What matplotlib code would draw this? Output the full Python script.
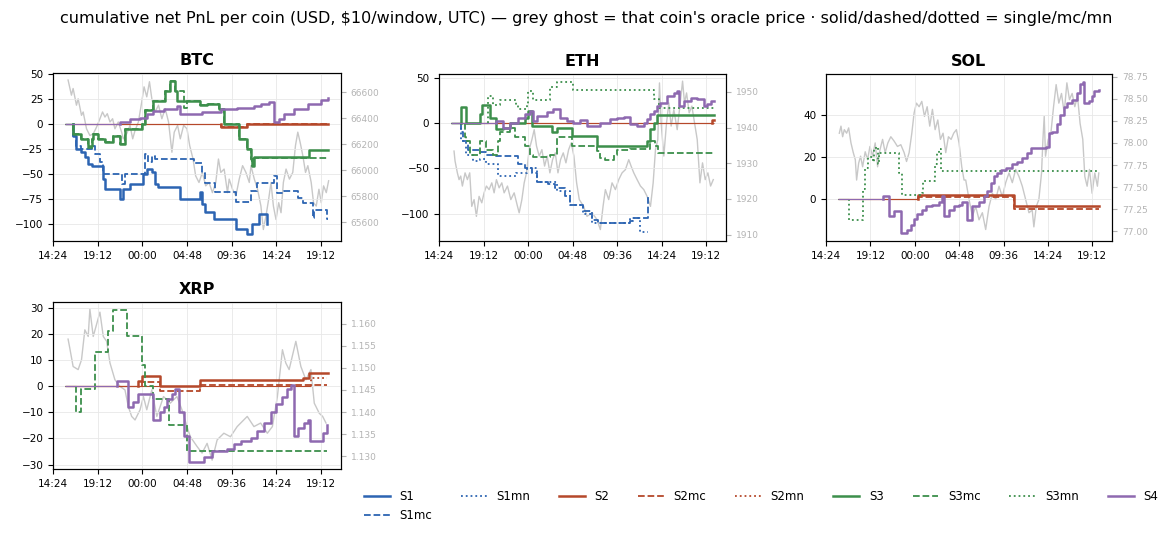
import matplotlib
matplotlib.use('Agg')
import matplotlib.pyplot as plt
from matplotlib.lines import Line2D
from matplotlib.ticker import FuncFormatter

# time = hours since 00:00 of day 1 (UTC), values = cumulative net PnL in USD
# ---------------- BTC ----------------
btc_s1 = [(15.66, 0), (16.56, -12), (16.92, -25), (17.46, -28), (17.82, -33), (18.18, -40),
          (18.54, -42), (19.80, -55), (19.98, -65), (21.59, -75), (21.95, -65), (22.67, -60),
          (24.11, -50), (24.47, -45), (25.01, -48), (25.37, -60), (25.73, -63), (28.07, -75),
          (30.23, -68), (30.41, -80), (30.77, -88), (31.67, -95), (34.00, -105), (35.26, -110),
          (35.80, -100), (36.52, -90), (37.35, -100), (37.42, -100)]
btc_s1mc = [(15.66, 0), (16.56, -12), (16.92, -22), (17.46, -25), (18.54, -22), (18.90, -30),
            (19.44, -38), (19.80, -50), (21.77, -60), (22.13, -50), (24.29, -30), (24.65, -38),
            (25.01, -32), (25.37, -35), (29.51, -39), (30.41, -49), (30.77, -59), (31.85, -68),
            (34.00, -78), (35.62, -67), (36.34, -59), (38.14, -52), (38.50, -69), (39.22, -67),
            (40.66, -74), (41.20, -79), (42.28, -94), (42.46, -86), (43.82, -95), (43.97, -95)]
btc_s2 = [(15.66, 0), (32.39, -3), (35.26, 0), (43.97, 0)]
btc_s2mc = [(15.66, 0), (32.39, -3), (35.26, 0), (43.97, 0)]
btc_s3 = [(15.66, 0), (16.56, -10), (17.46, -15), (18.18, -22), (18.54, -15), (18.72, -10),
          (19.26, -15), (19.98, -18), (20.87, -12), (21.59, -20), (22.13, -5), (23.93, 0),
          (24.29, 14), (25.19, 23), (26.45, 33), (26.99, 43), (27.53, 33), (27.71, 23),
          (30.23, 19), (30.95, 20), (32.21, 15), (32.75, 0), (34.36, -15), (35.26, -25),
          (35.62, -35), (35.80, -42), (35.98, -33), (41.92, -26), (43.97, -26)]
btc_s3mc = [(15.66, 0), (16.56, -10), (17.46, -15), (18.18, -24), (18.54, -15), (18.72, -10),
            (19.26, -15), (19.98, -18), (20.87, -12), (21.59, -20), (22.13, -5), (23.93, 0),
            (24.29, 14), (25.19, 23), (26.45, 33), (26.99, 43), (27.53, 33), (28.43, 16),
            (28.79, 23), (30.23, 19), (30.95, 20), (32.21, 15), (32.75, 0), (34.36, -15),
            (35.26, -25), (35.62, -35), (35.80, -42), (35.98, -34), (43.97, -35)]
btc_s4 = [(15.66, 0), (20.52, 0), (21.59, 2), (22.67, 5), (23.75, 6), (24.47, 10), (25.19, 13),
          (26.27, 15), (27.71, 18), (28.07, 10), (30.41, 12), (32.39, 15), (34.18, 16),
          (35.98, 18), (36.70, 20), (37.60, 22), (38.14, 2), (38.68, 5), (39.22, 10),
          (40.30, 15), (41.74, 20), (43.18, 24), (43.97, 26)]
btc_px_t = [16.02, 16.38, 16.56, 16.92, 17.10, 17.46, 17.64, 17.82, 18.00, 18.36, 18.72, 19.08,
            19.44, 19.72, 19.98, 20.23, 20.52, 20.80, 21.05, 21.41, 21.77, 21.95, 22.31, 22.67,
            22.96, 23.21, 23.57, 23.93, 24.18, 24.47, 24.76, 25.01, 25.37, 25.73, 26.09, 26.45,
            26.81, 27.17, 27.42, 27.78, 28.07, 28.43, 28.79, 29.08, 29.44, 29.72, 30.08, 30.44,
            30.80, 31.16, 31.52, 31.88, 32.17, 32.42, 32.78, 33.14, 33.32, 33.68, 34.04, 34.40,
            34.76, 35.12, 35.48, 35.66, 36.02, 36.37, 36.73, 36.99, 37.27, 37.56, 37.81, 38.07,
            38.35, 38.64, 38.89, 39.14, 39.43, 39.79, 40.15, 40.44, 40.69, 40.94, 41.23, 41.52,
            41.77, 42.13, 42.38, 42.67, 42.96, 43.21, 43.46, 43.75, 44.00]
btc_px_v = [66693, 66577, 66628, 66500, 66549, 66422, 66448, 66383, 66319, 66268, 66280, 66332,
            66396, 66448, 66409, 66435, 66371, 66396, 66319, 66371, 66293, 66242, 66280, 66345,
            66242, 66306, 66371, 66525, 66641, 66564, 66680, 66551, 66448, 66500, 66396, 66474,
            66371, 66139, 66293, 66345, 66242, 66345, 66319, 66190, 66087, 65958, 65907, 65984,
            65881, 65907, 65829, 65907, 66087, 65984, 66010, 65829, 65933, 65855, 65804, 65933,
            66036, 65984, 65907, 66036, 65933, 65855, 65726, 65546, 65649, 65778, 65907, 65726,
            65623, 65752, 65675, 65907, 66010, 65933, 65984, 66190, 66293, 66216, 66113, 65984,
            66036, 65907, 65752, 65726, 65855, 65752, 65881, 65829, 65920]

# ---------------- ETH ----------------
eth_s1mc = [(15.66, 0), (16.74, -10), (16.99, -20), (17.53, -30), (18.79, -32), (19.51, -35),
            (20.59, -36), (22.93, -45), (23.65, -50), (24.37, -55), (24.91, -65), (26.17, -67),
            (26.89, -72), (27.97, -80), (28.51, -90), (29.95, -97), (30.85, -107), (31.57, -110),
            (34.99, -108), (35.35, -105), (36.97, -80), (37.00, -80)]
eth_s1mn = [(15.66, 0), (16.81, -20), (17.35, -35), (18.07, -42), (18.79, -40), (19.51, -45),
            (20.77, -58), (22.75, -55), (23.83, -50), (24.91, -65), (27.07, -75), (28.51, -90),
            (29.95, -100), (30.85, -110), (34.99, -105), (36.07, -120), (36.97, -120)]
eth_s2 = [(15.66, 0), (43.80, 3), (43.99, 3)]
eth_s2mc = [(15.66, 0), (43.99, 0)]
eth_s3 = [(15.66, 0), (16.81, 18), (17.35, 0), (18.79, 10), (19.08, 20), (19.87, 5),
          (20.59, -7), (21.31, -5), (22.03, 0), (23.65, 5), (24.01, 13), (24.37, -3),
          (26.53, -10), (27.07, -5), (28.69, -14), (31.43, -25), (36.83, -20), (37.19, -7),
          (37.55, 0), (37.91, 8.5), (43.99, 8.5)]
eth_s3mc = [(15.66, 0), (17.17, -15), (17.35, -20), (17.71, -35), (18.79, -20), (19.51, -30),
            (20.23, -35), (20.77, -20), (20.95, -10), (22.03, -5), (22.57, -15), (23.65, -25),
            (24.19, -35), (24.55, -37), (26.35, -35), (27.07, -15), (28.69, -25), (31.43, -31),
            (31.79, -38), (32.33, -41), (33.23, -35), (33.59, -30), (35.03, -29), (37.19, -20),
            (37.73, -25), (37.98, -33), (43.99, -33)]
eth_s3mn = [(15.66, 0), (19.69, 30), (20.23, 20), (20.95, 25), (22.75, 20), (22.93, 15),
            (23.83, 20), (24.01, 35), (24.55, 25), (26.35, 40), (27.07, 45), (28.15, 45),
            (28.87, 36), (37.55, 26), (38.09, 16), (43.99, 16)]
eth_s4 = [(15.66, 0), (19.87, 0), (20.59, 2), (21.31, -5), (22.03, 0), (22.93, 5), (23.65, 10),
          (24.19, 13), (24.55, 2), (24.91, 8), (25.99, 12), (26.71, 15), (27.43, 5), (28.15, 2),
          (28.87, 0), (29.59, 3), (30.31, -3), (31.75, 0), (32.87, 4), (33.59, 5), (34.31, 7),
          (35.03, -1.5), (35.75, -3.3), (36.47, 0), (36.83, 4), (37.19, 9.6), (37.55, 13),
          (37.91, 18.8), (38.27, 22), (38.99, 30), (39.71, 33), (40.07, 35), (40.25, 18.8),
          (40.79, 24), (41.51, 28), (42.23, 26), (42.95, 18.8), (43.31, 21), (43.67, 24),
          (43.99, 24)]
eth_px_t = [16.02, 16.13, 16.38, 16.56, 16.74, 16.92, 17.21, 17.46, 17.71, 17.93, 18.18, 18.43,
            18.72, 19.01, 19.26, 19.51, 19.80, 20.09, 20.34, 20.59, 20.88, 21.17, 21.42, 21.78,
            22.14, 22.50, 22.86, 23.04, 23.33, 23.58, 23.83, 24.12, 24.41, 24.66, 24.91, 25.20,
            25.49, 25.78, 26.06, 26.35, 26.64, 26.93, 27.22, 27.50, 27.79, 28.08, 28.37, 28.65,
            28.94, 29.23, 29.52, 29.99, 30.35, 30.89, 31.43, 31.79, 32.08, 32.33, 32.69, 33.05,
            33.41, 33.77, 34.13, 34.49, 34.85, 35.10, 35.39, 35.75, 36.11, 36.47, 36.83, 37.19,
            37.48, 37.73, 37.98, 38.16, 38.34, 38.63, 38.92, 39.17, 39.42, 39.71, 40.07, 40.36,
            40.65, 40.86, 41.08, 41.36, 41.65, 41.94, 42.23, 42.52, 42.80, 43.09, 43.38, 43.67,
            43.96]
eth_px_v = [1933.4, 1930.6, 1927.3, 1925.4, 1926.4, 1923.6, 1927.3, 1925.4, 1927.3, 1917.9,
            1919.8, 1915.1, 1920.7, 1918.9, 1921.7, 1923.6, 1922.6, 1924.5, 1921.7, 1925.4,
            1923.1, 1924.5, 1921.7, 1923.6, 1919.8, 1921.7, 1917.9, 1916.1, 1919.8, 1924.5,
            1927.3, 1933.8, 1936.6, 1939.4, 1934.8, 1932.0, 1933.8, 1929.2, 1932.0, 1927.3,
            1931.0, 1932.9, 1927.3, 1931.0, 1932.9, 1930.1, 1933.8, 1935.7, 1932.0, 1924.5,
            1919.8, 1917.9, 1915.1, 1916.1, 1914.2, 1911.4, 1917.9, 1922.6, 1919.8, 1924.5,
            1922.6, 1925.4, 1927.3, 1928.2, 1931.0, 1929.2, 1927.3, 1925.4, 1923.6, 1922.6,
            1920.7, 1917.9, 1924.5, 1933.8, 1936.6, 1952.5, 1941.3, 1932.0, 1941.3, 1946.9,
            1940.4, 1945.0, 1939.4, 1946.0, 1953.0, 1946.9, 1949.7, 1944.1, 1946.0, 1941.3,
            1936.6, 1924.5, 1930.1, 1925.4, 1927.3, 1923.6, 1925.4]

# ---------------- SOL ----------------
sol_s2 = [(15.69, 0), (24.40, 2), (34.73, -3), (43.93, -3)]
sol_s2mc = [(15.69, 0), (24.40, 1), (34.73, -4.5), (43.93, -4.5)]
sol_s3mn = [(15.69, 0), (16.85, -10), (18.18, -10), (18.36, 5), (18.64, 15), (18.90, 20),
            (19.44, 18), (19.62, 24), (19.80, 25), (19.98, 17), (20.16, 22), (22.13, 22),
            (22.31, 12.5), (22.67, 2), (24.83, 3), (24.90, 8.6), (26.09, 9), (26.20, 17),
            (26.45, 22), (26.63, 24), (26.80, 13.3), (43.93, 13.3)]
sol_s4 = [(15.69, 0), (20.52, 1.7), (21.23, -8), (21.77, -5.7), (22.49, -16), (23.21, -14.5),
          (23.57, -12), (23.93, -9.5), (24.29, -7), (24.83, -5), (25.19, -3.3), (25.91, -2.5),
          (26.63, -1), (26.99, 1.4), (27.17, -8), (27.71, -5), (28.25, -3.3), (28.79, -2.5),
          (29.15, -1), (29.60, -9.7), (30.23, -3.3), (30.95, -1), (31.49, 1.4), (31.85, 3.8),
          (32.21, 7.8), (32.57, 11), (32.93, 12.5), (33.29, 14), (33.83, 15), (34.55, 17),
          (35.09, 18), (35.63, 19.7), (36.16, 22), (36.52, 24.4), (38.14, 25), (38.50, 31.6),
          (38.86, 32), (39.40, 36), (39.76, 40), (40.12, 44), (40.48, 46), (41.02, 47.5),
          (41.56, 50.6), (41.92, 55), (42.17, 56), (42.28, 46), (42.82, 46.7), (43.18, 49),
          (43.36, 51.4), (43.90, 52)]
sol_px_t = [15.84, 16.02, 16.20, 16.38, 16.63, 16.85, 17.10, 17.35, 17.57, 17.71, 17.93, 18.14,
            18.36, 18.64, 18.90, 19.15, 19.44, 19.72, 19.98, 20.23, 20.52, 20.80, 21.09, 21.41,
            21.77, 22.13, 22.49, 22.85, 23.11, 23.39, 23.68, 23.93, 24.18, 24.47, 24.76, 25.05,
            25.34, 25.62, 25.91, 26.20, 26.49, 26.77, 27.06, 27.35, 27.64, 27.93, 28.21, 28.50,
            28.79, 29.08, 29.33, 29.51, 29.87, 30.23, 30.59, 30.95, 31.31, 31.67, 32.03, 32.39,
            32.75, 33.11, 33.47, 33.83, 34.19, 34.55, 34.91, 35.27, 35.63, 35.99, 36.35, 36.70,
            36.88, 37.14, 37.42, 37.71, 37.86, 38.00, 38.14, 38.43, 38.72, 39.01, 39.29, 39.58,
            39.87, 40.16, 40.45, 40.73, 41.02, 41.31, 41.60, 41.88, 42.17, 42.39, 42.64, 42.89,
            43.18, 43.47, 43.75, 43.90]
sol_px_v = [78.11, 78.19, 78.07, 78.15, 78.11, 78.17, 78.00, 77.89, 77.81, 77.58, 77.77, 77.85,
            77.73, 77.90, 77.81, 77.96, 77.85, 78.00, 77.73, 77.92, 78.04, 77.89, 78.00, 78.07,
            78.02, 77.96, 77.98, 77.89, 77.79, 77.89, 78.11, 78.34, 78.45, 78.41, 78.47, 78.30,
            78.41, 78.19, 78.38, 78.15, 78.26, 78.04, 78.11, 77.89, 78.07, 78.04, 78.11, 78.15,
            78.00, 77.73, 77.58, 77.58, 77.36, 77.17, 77.28, 77.13, 77.21, 77.02, 77.28, 77.43,
            77.36, 77.51, 77.39, 77.55, 77.66, 77.55, 77.70, 77.62, 77.51, 77.36, 77.21, 77.24,
            77.05, 77.28, 77.36, 77.66, 78.04, 78.30, 77.85, 78.04, 78.11, 78.41, 78.66, 78.45,
            78.56, 78.34, 78.68, 78.49, 78.56, 78.41, 78.53, 78.22, 78.04, 77.62, 77.51, 77.70,
            77.43, 77.66, 77.51, 77.66]

# ---------------- XRP ----------------
xrp_s2 = [(15.66, 0), (23.57, 2), (23.93, 4), (25.84, 0), (30.23, 2.4), (41.20, 3),
          (41.92, 5), (43.90, 5)]
xrp_s2mc = [(15.66, 0), (23.93, 1.5), (25.84, -2), (30.23, 0.3), (43.82, 0.3)]
xrp_s2mn = [(15.66, 0), (42.10, 3), (43.82, 3)]
xrp_s3mc = [(15.66, 0), (16.92, -10), (17.46, -1), (18.90, 13), (20.34, 21), (20.87, 29),
            (22.31, 19), (23.93, 8), (24.29, 0), (25.19, -5), (26.81, -15), (28.79, -25),
            (43.82, -25)]
xrp_s4 = [(15.66, 0), (19.44, 0), (21.23, 2), (22.49, -8), (23.03, -6), (23.57, -3),
          (25.12, -13), (25.91, -10), (26.27, -8), (26.63, -5), (27.17, -3), (27.53, -1),
          (27.89, -10), (28.43, -19), (28.97, -29), (30.59, -27), (31.49, -25), (33.11, -24),
          (33.82, -22), (34.54, -21), (35.62, -20), (36.34, -17), (37.06, -14), (37.78, -10),
          (38.32, -7), (39.04, -4), (39.58, -1), (39.94, 0.5), (40.30, -19), (40.66, -16),
          (41.38, -14), (41.74, -13), (42.03, -21), (42.82, -21), (43.36, -18), (43.82, -15)]
xrp_px_t = [16.02, 16.20, 16.56, 17.10, 17.46, 17.82, 18.18, 18.36, 18.72, 19.44, 19.80, 20.16,
            20.52, 21.05, 21.59, 22.13, 22.49, 22.85, 23.21, 23.75, 24.11, 24.47, 25.01, 25.55,
            26.27, 26.99, 27.71, 28.25, 28.79, 29.15, 29.87, 30.41, 30.95, 31.49, 32.03, 32.75,
            33.46, 34.18, 35.26, 35.98, 36.70, 37.42, 37.96, 38.50, 39.04, 39.40, 39.76, 40.48,
            41.02, 41.56, 42.10, 42.46, 43.00, 43.36, 43.72]
xrp_px_v = [1.1565, 1.1545, 1.1503, 1.1496, 1.1518, 1.1586, 1.1571, 1.1633, 1.1571, 1.1626,
            1.1571, 1.1560, 1.1511, 1.1473, 1.1458, 1.1450, 1.1412, 1.1390, 1.1382, 1.1405,
            1.1435, 1.1405, 1.1450, 1.1390, 1.1435, 1.1420, 1.1435, 1.1405, 1.1367, 1.1344,
            1.1322, 1.1307, 1.1329, 1.1291, 1.1337, 1.1352, 1.1344, 1.1367, 1.1390, 1.1367,
            1.1375, 1.1352, 1.1367, 1.1435, 1.1541, 1.1511, 1.1496, 1.1560, 1.1503, 1.1473,
            1.1496, 1.1420, 1.1397, 1.1390, 1.1375]

COLORS = {'S1': '#2c64b2', 'S2': '#b5482a', 'S3': '#3c8f4b', 'S4': '#8e69b0'}
STYLES = {'': ('-', 1.8), 'mc': ('--', 1.3), 'mn': (':', 1.3)}

panels = [
    ('BTC', {'S1': btc_s1, 'S1mc': btc_s1mc, 'S2': btc_s2, 'S2mc': btc_s2mc,
             'S3': btc_s3, 'S3mc': btc_s3mc, 'S4': btc_s4},
     btc_px_t, btc_px_v, [53, 73, 341, 241], (-117, 51), (65458, 66747),
     [65600, 65800, 66000, 66200, 66400, 66600], '{:.0f}', [-100, -75, -50, -25, 0, 25, 50]),
    ('ETH', {'S1mc': eth_s1mc, 'S1mn': eth_s1mn, 'S2': eth_s2, 'S2mc': eth_s2mc,
             'S3': eth_s3, 'S3mc': eth_s3mc, 'S3mn': eth_s3mn, 'S4': eth_s4},
     eth_px_t, eth_px_v, [439, 74, 726, 241], (-130, 54), (1908.2, 1955),
     [1910, 1920, 1930, 1940, 1950], '{:.0f}', [-100, -50, 0, 50]),
    ('SOL', {'S2': sol_s2, 'S2mc': sol_s2mc, 'S3mn': sol_s3mn, 'S4': sol_s4},
     sol_px_t, sol_px_v, [826, 74, 1112, 241], (-19.8, 59.7), (76.89, 78.78),
     [77.0, 77.25, 77.5, 77.75, 78.0, 78.25, 78.5, 78.75], '{:.2f}', [0, 20, 40]),
    ('XRP', {'S2': xrp_s2, 'S2mc': xrp_s2mc, 'S2mn': xrp_s2mn, 'S3mc': xrp_s3mc,
             'S4': xrp_s4},
     xrp_px_t, xrp_px_v, [53, 302, 341, 469], (-31.7, 32.2), (1.1271, 1.1649),
     [1.130, 1.135, 1.140, 1.145, 1.150, 1.155, 1.160], '{:.3f}',
     [-30, -20, -10, 0, 10, 20, 30]),
]

W, H = 1172, 535
fig = plt.figure(figsize=(W / 100, H / 100), dpi=100)


def hhmm(x, pos):
    h = x % 24
    return '%02d:%02d' % (int(h), int(round((h % 1) * 60)))


for coin, series, pt, pv, box, ylim, plim, pticks, pfmt, yticks in panels:
    l, t, r, b = box
    ax = fig.add_axes([l / W, 1 - b / H, (r - l) / W, (b - t) / H])
    tw = ax.twinx()
    tw.plot(pt, pv, color='#c8c8c8', lw=1.0)
    tw.set_ylim(*plim)
    tw.set_yticks(pticks)
    tw.set_yticklabels([pfmt.format(p) for p in pticks])
    tw.tick_params(axis='y', labelsize=6.5, labelcolor='#b4b4b4', color='#b4b4b4')
    ax.set_zorder(tw.get_zorder() + 1)
    ax.patch.set_visible(False)

    for name, pts in series.items():
        ts = [p[0] for p in pts]
        vs = [p[1] for p in pts]
        ls, lw = STYLES[name[2:]]
        col = COLORS[name[:2]]
        # flat zero stretch before the first trade drawn thin
        k = next((i for i, v in enumerate(vs) if v != 0), len(vs) - 1)
        ax.plot([ts[0], ts[k]], [0, 0], color=col, lw=0.8, solid_capstyle='butt')
        ax.plot([ts[k]] + ts[k:], [0] + vs[k:], color=col, lw=lw, ls=ls,
                drawstyle='steps-post')

    ax.set_xlim(14.4, 45.33)
    ax.set_xticks([14.4, 19.2, 24.0, 28.8, 33.6, 38.4, 43.2])
    ax.xaxis.set_major_formatter(FuncFormatter(hhmm))
    ax.set_ylim(*ylim)
    ax.set_yticks(yticks)
    ax.tick_params(labelsize=7.5)
    ax.grid(True, color='#e8e8e8', lw=0.6)
    ax.set_title(coin, fontweight='bold', fontsize=11.5, pad=6)

handles = []
labels = []
for name in ['S1', 'S1mc', 'S1mn', 'S2', 'S2mc', 'S2mn', 'S3', 'S3mc', 'S3mn', 'S4']:
    ls, lw = STYLES[name[2:]]
    handles.append(Line2D([], [], color=COLORS[name[:2]], ls=ls, lw=lw))
    labels.append(name)
fig.legend(handles, labels, ncol=9, loc='lower right', bbox_to_anchor=(0.997, 0.005),
           frameon=False, fontsize=8.5, handlelength=2.2, handletextpad=0.8,
           columnspacing=2.45)

fig.text(0.5, 0.966,
         "cumulative net PnL per coin (USD, \\$10/window, UTC) \u2014 grey ghost = that coin's "
         "oracle price \u00b7 solid/dashed/dotted = single/mc/mn",
         ha='center', va='center', fontsize=11.5)

fig.savefig('out.png', dpi=100)
